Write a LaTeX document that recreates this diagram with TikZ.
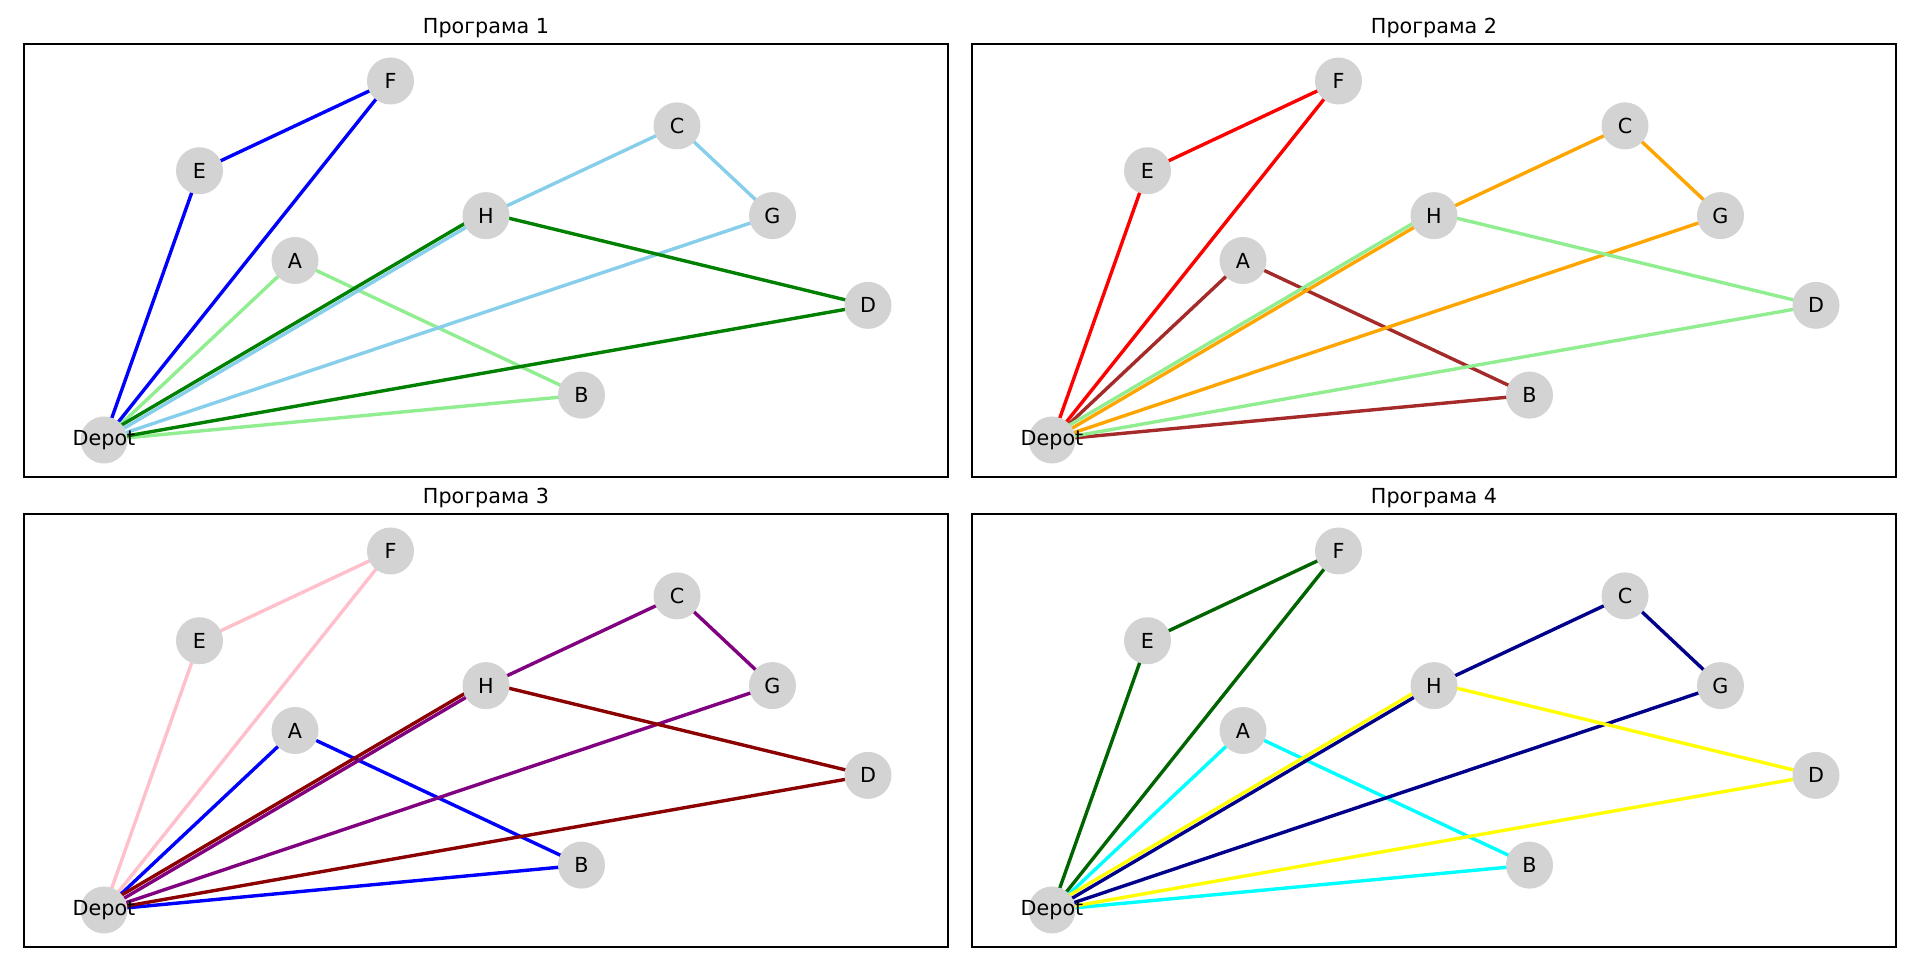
\documentclass[tikz,border=0pt]{standalone}
\usepackage{fontspec}
\setmainfont{DejaVu Sans}
\usetikzlibrary{backgrounds}

\definecolor{nodegray}{RGB}{211,211,211}
\definecolor{lgreen}{RGB}{144,238,144}
\definecolor{sky}{RGB}{135,206,235}
\definecolor{mgreen}{RGB}{0,128,0}
\definecolor{mbrown}{RGB}{165,42,42}
\definecolor{morange}{RGB}{255,165,0}
\definecolor{mpink}{RGB}{255,192,203}
\definecolor{mpurple}{RGB}{128,0,128}
\definecolor{dred}{RGB}{139,0,0}
\definecolor{dgreen}{RGB}{0,100,0}
\definecolor{mnavy}{RGB}{0,0,139}
\definecolor{mcyan}{RGB}{0,255,255}
\definecolor{myellow}{RGB}{255,255,0}

\tikzset{
  stop/.style={circle, fill=nodegray, minimum size=23.5pt, inner sep=0pt},
  route/.style={line width=1.7pt},
  frame/.style={line width=0.7pt},
}

\begin{document}
\begin{tikzpicture}[x=0.5pt, y=-0.5pt, font=\fontsize{10.35}{12.4}\selectfont]
  \useasboundingbox (0,0) rectangle (1919,956);

  \foreach \n/\px/\py/\ca/\cb/\cc/\cd in {%
      1/0/0/blue/lgreen/sky/mgreen,
      2/948/0/red/mbrown/morange/lgreen,
      3/0/470/mpink/blue/mpurple/dred,
      4/948/470/dgreen/mcyan/mnavy/myellow}{
  \begin{scope}[shift={(\px,\py)}]
    \draw[frame] (24,44) rectangle (948,477);
    \node[anchor=base] (title\n) at (486,34) {Програма \n};

    %% stops on a grid of 95.5 x 44.875
    \foreach \s/\i/\j in {Depot/0/8, E/1/2, A/2/4, F/3/0, H/4/3,
                          B/5/7, C/6/1, G/7/3, D/8/5}{
      \node[stop] (\s) at (104+95.5*\i, 81+44.875*\j) {};
      \node (lbl\s) at (\s) {\s};
    }

    \begin{pgfonlayer}{background}
      \draw[route, draw=\ca] (Depot.center) -- (E.center) -- (F.center) -- (Depot.center); %% route 1
      \draw[route, draw=\cb] (Depot.center) -- (A.center) -- (B.center) -- (Depot.center); %% route 2
      \draw[route, draw=\cc] (Depot.center) -- (H.center) -- (C.center) -- (G.center)
        -- (Depot.center); %% route 3
      \draw[route, draw=\cd] ([shift={(-2,-3.45)}]Depot.center) -- ([shift={(-2,-3.45)}]H.center)
        -- (D.center) -- (Depot.center); %% route 4
    \end{pgfonlayer}
  \end{scope}
  }
\end{tikzpicture}
\end{document}
